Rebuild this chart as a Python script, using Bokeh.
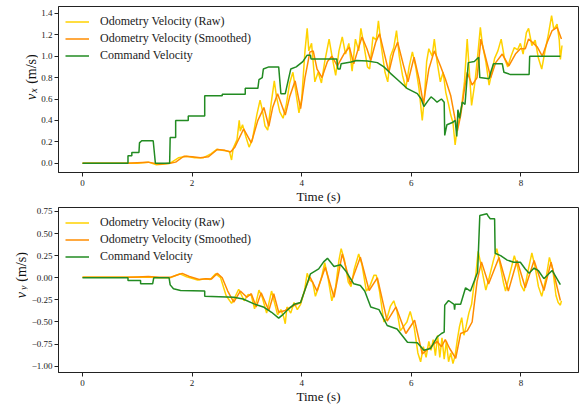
import math
from bokeh.plotting import figure
from bokeh.layouts import column, row
from bokeh.models import Range1d, FixedTicker, CustomJSTickFormatter, Legend, LegendItem
from bokeh.core.properties import value
from bokeh.embed import file_html
from bokeh.resources import INLINE

# ---------------- data: top (v_x) ----------------
vx_raw_t = [0.0, 0.8, 1.0, 1.2, 1.35, 1.45, 1.6, 1.75, 1.9, 2.05, 2.2, 2.35, 2.45, 2.55, 2.68, 2.72, 2.75,
            2.82, 2.86, 2.88, 2.92, 2.98, 3.04, 3.10, 3.18, 3.24, 3.28, 3.33, 3.38, 3.44, 3.50, 3.54, 3.60,
            3.66, 3.72, 3.78, 3.84, 3.90, 3.95, 4.0, 4.06, 4.10, 4.13, 4.18, 4.24, 4.30, 4.36, 4.42, 4.50,
            4.56, 4.62, 4.68, 4.74, 4.80, 4.86, 4.92, 4.98, 5.04, 5.08, 5.13, 5.20, 5.24, 5.30, 5.36, 5.40,
            5.45, 5.52, 5.57, 5.62, 5.68, 5.73, 5.78, 5.84, 5.90, 5.96, 6.02, 6.08, 6.14, 6.20, 6.24, 6.28,
            6.32, 6.38, 6.42, 6.47, 6.53, 6.58, 6.63, 6.68, 6.72, 6.76, 6.80, 6.83, 6.87, 6.92, 6.97, 7.02,
            7.06, 7.10, 7.16, 7.22, 7.26, 7.30, 7.36, 7.42, 7.47, 7.52, 7.58, 7.64, 7.70, 7.76, 7.82, 7.88,
            7.94, 7.99, 8.04, 8.10, 8.14, 8.20, 8.26, 8.32, 8.38, 8.44, 8.50, 8.56, 8.60, 8.66, 8.70, 8.72, 8.75]
vx_raw_v = [0.0, 0.0, 0.0, 0.01, -0.015, -0.01, 0.0, 0.05, 0.065, 0.05, 0.05, 0.09, 0.13, 0.12, 0.11, 0.03, 0.14,
            0.22, 0.40, 0.30, 0.36, 0.25, 0.15, 0.22, 0.45, 0.59, 0.50, 0.35, 0.31, 0.55, 0.77, 0.62, 0.48,
            0.42, 0.55, 0.75, 0.85, 0.64, 0.47, 0.60, 1.05, 1.26, 1.05, 1.12, 0.76, 0.85, 0.75, 0.95, 1.16,
            0.98, 0.82, 1.05, 1.18, 1.02, 1.12, 0.86, 1.16, 1.05, 1.26, 1.12, 0.90, 0.88, 1.18, 1.15, 1.33,
            1.10, 0.85, 0.76, 1.0, 1.08, 1.24, 1.00, 0.82, 0.70, 0.90, 1.04, 0.90, 0.70, 0.40, 0.62, 0.95,
            1.07, 1.00, 1.16, 0.95, 0.76, 0.85, 0.66, 0.55, 0.45, 0.38, 0.17, 0.30, 0.40, 0.54, 0.76, 1.16,
            0.85, 0.54, 0.75, 1.05, 1.27, 1.10, 0.95, 0.73, 0.85, 0.98, 1.05, 1.16, 0.98, 0.90, 1.0, 1.08,
            1.06, 1.12, 1.02, 1.22, 1.26, 1.10, 1.15, 0.98, 0.88, 1.05, 1.20, 1.38, 1.25, 1.30, 1.15, 0.97, 1.10]

vx_smooth_t = [0.0, 0.8, 1.0, 1.2, 1.4, 1.6, 1.7, 1.85, 2.0, 2.15, 2.3, 2.46, 2.6, 2.7, 2.78, 2.94, 3.08,
               3.2, 3.31, 3.4, 3.47, 3.56, 3.70, 3.78, 3.88, 3.98, 4.06, 4.15, 4.21, 4.28, 4.37, 4.47, 4.55,
               4.65, 4.77, 4.87, 4.95, 5.02, 5.10, 5.19, 5.26, 5.35, 5.42, 5.50, 5.59, 5.68, 5.75, 5.86, 5.94,
               6.05, 6.14, 6.22, 6.32, 6.42, 6.53, 6.62, 6.72, 6.84, 6.90, 6.96, 7.02, 7.11, 7.20, 7.27, 7.35,
               7.45, 7.54, 7.66, 7.78, 7.90, 7.99, 8.08, 8.14, 8.21, 8.30, 8.39, 8.48, 8.57, 8.66, 8.74]
vx_smooth_v = [0.0, 0.0, 0.005, 0.01, -0.01, 0.0, 0.01, 0.065, 0.06, 0.05, 0.06, 0.128, 0.12, 0.105, 0.15, 0.32, 0.19,
               0.40, 0.52, 0.345, 0.52, 0.65, 0.45, 0.62, 0.77, 0.51, 0.80, 1.04, 1.05, 0.88, 0.80, 0.95, 1.0,
               0.91, 1.02, 1.085, 0.93, 1.05, 1.18, 1.07, 0.96, 1.13, 1.21, 1.04, 0.85, 1.04, 1.13, 0.91, 0.76,
               0.99, 0.79, 0.555, 0.88, 1.05, 0.91, 0.79, 0.63, 0.30, 0.445, 0.66, 0.85, 0.73, 0.80, 1.16, 1.0,
               0.80, 0.94, 1.02, 0.91, 1.02, 1.07, 1.07, 1.16, 1.13, 1.085, 1.0, 1.13, 1.24, 1.27, 1.16]

vx_cmd_t = [0.0, 0.83, 0.83, 0.90, 0.90, 1.03, 1.04, 1.08, 1.29, 1.33, 1.59, 1.60, 1.70, 1.70, 1.93, 1.93,
            2.23, 2.23, 2.55, 2.55, 2.97, 2.97, 3.20, 3.22, 3.28, 3.30, 3.40, 3.58, 3.62, 3.70, 3.80, 3.90,
            4.02, 4.10, 4.16, 4.17, 4.64, 4.66, 4.70, 4.72, 4.90, 5.0, 5.2, 5.38, 5.5, 5.62, 5.75, 5.92,
            6.11, 6.18, 6.23, 6.30, 6.36, 6.41, 6.47, 6.55, 6.60, 6.61, 6.65, 6.75, 6.80, 6.83, 6.85, 6.88,
            6.93, 6.98, 7.04, 7.15, 7.23, 7.25, 7.42, 7.45, 7.50, 7.66, 7.69, 7.80, 8.15, 8.16, 8.72]
vx_cmd_v = [0.0, 0.0, 0.07, 0.07, 0.10, 0.10, 0.19, 0.21, 0.21, 0.0, 0.0, 0.24, 0.24, 0.40, 0.40, 0.44,
            0.44, 0.63, 0.63, 0.645, 0.645, 0.70, 0.70, 0.78, 0.80, 0.88, 0.90, 0.90, 0.65, 0.65, 0.88, 0.90,
            0.95, 1.01, 1.01, 0.975, 0.975, 0.88, 0.88, 0.93, 0.945, 0.96, 0.955, 0.94, 0.90, 0.84, 0.78, 0.70,
            0.65, 0.60, 0.53, 0.58, 0.62, 0.60, 0.57, 0.60, 0.57, 0.26, 0.36, 0.38, 0.40, 0.25, 0.50, 0.42,
            0.57, 0.55, 0.94, 0.95, 0.99, 0.80, 0.79, 0.85, 0.93, 0.93, 0.85, 0.83, 0.83, 1.0, 1.0]

# ---------------- data: bottom (v_y) ----------------
vy_raw_t = [0.0, 0.8, 1.2, 1.4, 1.6, 1.78, 1.9, 2.1, 2.25, 2.33, 2.43, 2.52, 2.62, 2.72, 2.78, 2.85, 2.95,
            3.02, 3.08, 3.14, 3.22, 3.28, 3.36, 3.45, 3.52, 3.56, 3.62, 3.67, 3.70, 3.73, 3.8, 3.86, 3.92,
            3.98, 4.05, 4.10, 4.14, 4.20, 4.25, 4.30, 4.36, 4.42, 4.48, 4.55, 4.62, 4.68, 4.72, 4.78, 4.85,
            4.90, 4.96, 5.04, 5.10, 5.18, 5.24, 5.32, 5.36, 5.42, 5.50, 5.56, 5.62, 5.68, 5.74, 5.80, 5.86,
            5.92, 5.98, 6.05, 6.12, 6.17, 6.22, 6.27, 6.32, 6.36, 6.40, 6.44, 6.48, 6.52, 6.56, 6.60, 6.64,
            6.68, 6.72, 6.76, 6.80, 6.84, 6.88, 6.92, 6.96, 7.00, 7.05, 7.10, 7.14, 7.18, 7.22, 7.26, 7.30,
            7.36, 7.42, 7.50, 7.56, 7.62, 7.68, 7.72, 7.80, 7.88, 7.94, 8.0, 8.06, 8.12, 8.20, 8.26, 8.32,
            8.38, 8.46, 8.52, 8.58, 8.64, 8.68, 8.72, 8.74]
vy_raw_v = [0.005, 0.005, 0.01, 0.0, 0.0, 0.045, 0.01, -0.025, -0.01, -0.02, 0.045, 0.0, -0.2, -0.29, -0.22, -0.13, -0.26,
            -0.19, -0.20, -0.35, -0.14, -0.22, -0.40, -0.15, -0.32, -0.42, -0.36, -0.44, -0.52, -0.33, -0.40, -0.28, -0.36,
            -0.30, -0.15, 0.05, -0.02, -0.05, -0.21, -0.12, 0.0, 0.17, 0.0, -0.26, -0.10, 0.20, 0.33, 0.20, -0.05,
            -0.10, 0.10, 0.27, 0.15, -0.15, -0.10, 0.03, 0.03, -0.15, -0.50, -0.45, -0.32, -0.26, -0.38, -0.60, -0.55,
            -0.50, -0.38, -0.55, -0.85, -0.95, -0.78, -0.90, -0.72, -0.82, -0.70, -0.88, -0.65, -0.90, -0.68, -0.92, -0.72,
            -0.95, -0.85, -0.97, -0.88, -0.70, -0.55, -0.45, -0.65, -0.55, -0.40, -0.30, -0.10, 0.05, 0.30, 0.18, 0.05,
            -0.14, 0.0, 0.20, 0.33, 0.15, -0.05, -0.15, 0.05, 0.25, 0.12, -0.08, -0.15, 0.05, 0.28, 0.12, -0.10,
            -0.21, 0.0, 0.23, 0.10, -0.20, -0.28, -0.31, -0.26]

vy_smooth_t = [0.0, 0.8, 1.0, 1.2, 1.4, 1.6, 1.7, 1.82, 1.95, 2.13, 2.25, 2.35, 2.46, 2.55, 2.65, 2.76, 2.88,
               3.0, 3.08, 3.17, 3.26, 3.40, 3.49, 3.58, 3.70, 3.80, 3.98, 4.08, 4.15, 4.28, 4.43, 4.59, 4.74,
               4.89, 5.07, 5.23, 5.38, 5.56, 5.72, 5.90, 6.06, 6.20, 6.32, 6.47, 6.55, 6.62, 6.70, 6.81, 6.90,
               7.02, 7.11, 7.20, 7.28, 7.41, 7.60, 7.77, 7.93, 8.08, 8.24, 8.42, 8.55, 8.72]
vy_smooth_v = [0.005, 0.005, 0.01, 0.015, 0.005, 0.005, 0.026, 0.05, 0.015, -0.02, -0.01, -0.015, 0.05, 0.0, -0.15, -0.275, -0.15,
               -0.22, -0.18, -0.33, -0.17, -0.37, -0.18, -0.39, -0.37, -0.33, -0.28, -0.10, 0.01, -0.15, 0.12, -0.22, 0.27,
               -0.07, 0.233, -0.144, 0.0, -0.49, -0.33, -0.63, -0.48, -0.86, -0.80, -0.72, -0.78, -0.70, -0.80, -0.91, -0.63,
               -0.60, -0.50, -0.04, 0.18, -0.07, 0.23, -0.15, 0.196, -0.113, 0.196, -0.144, 0.176, -0.257]

vy_cmd_t = [0.0, 0.83, 0.83, 1.06, 1.06, 1.28, 1.30, 1.58, 1.60, 1.66, 1.79, 2.23, 2.23, 2.76, 2.93, 3.13,
            3.30, 3.45, 3.58, 3.65, 3.73, 3.86, 3.98, 4.08, 4.16, 4.31, 4.40, 4.47, 4.59, 4.71, 4.80, 4.95,
            5.07, 5.15, 5.26, 5.41, 5.56, 5.74, 5.93, 6.11, 6.23, 6.35, 6.47, 6.55, 6.60, 6.61, 6.68, 6.78,
            6.79, 6.80, 6.90, 6.99, 7.08, 7.14, 7.21, 7.25, 7.38, 7.40, 7.44, 7.52, 7.53, 7.63, 7.75, 7.87,
            7.99, 8.08, 8.15, 8.24, 8.32, 8.42, 8.50, 8.57, 8.72]
vy_cmd_v = [0.0, 0.0, -0.03, -0.03, -0.068, -0.068, 0.0, 0.0, -0.08, -0.125, -0.144, -0.15, -0.21, -0.22, -0.24, -0.295,
            -0.33, -0.39, -0.457, -0.42, -0.37, -0.30, -0.28, -0.10, 0.045, 0.10, 0.18, 0.22, 0.128, 0.147, 0.08, -0.068,
            -0.087, -0.15, -0.33, -0.36, -0.54, -0.58, -0.73, -0.735, -0.82, -0.80, -0.67, -0.63, -0.615, -0.31, -0.257, -0.30,
            -0.36, -0.30, -0.30, -0.113, -0.15, -0.05, 0.063, 0.705, 0.724, 0.70, 0.667, 0.667, 0.278, 0.25, 0.20, 0.176,
            0.176, 0.10, 0.052, 0.11, 0.08, -0.01, 0.04, 0.083, -0.076]

x_ticks = [0, 2, 4, 6, 8]
vx_ticks = [0.0, 0.2, 0.4, 0.6, 0.8, 1.0, 1.2, 1.4]
vy_ticks = [0.75, 0.5, 0.25, 0.0, -0.25, -0.5, -0.75, -1.0]

series_names = ["Odometry Velocity (Raw)", "Odometry Velocity (Smoothed)", "Command Velocity"]
colors = ["#FFD200", "#FF8C00", "#228B22"]

SERIF = "Liberation Serif"
X_RANGE = (-0.438, 9.051)
TOTAL_W = 579


def make_label_fig(width, height, base_x, v_y, sub_y, unit_y, sub):
    """Narrow text-only figure that holds the rotated y-axis title."""
    lf = figure(width=width, height=height, output_backend="svg", toolbar_location=None,
                x_range=Range1d(0, width), y_range=Range1d(0, height),
                x_axis_type=None, y_axis_type=None,
                min_border_left=0, min_border_right=0, min_border_top=0, min_border_bottom=0)
    lf.grid.visible = False
    lf.outline_line_color = None
    lf.background_fill_color = "white"
    lf.border_fill_color = "white"
    common = dict(angle=math.pi / 2, text_font=value(SERIF), text_align="left",
                  text_baseline="alphabetic", text_color="#111111")
    lf.text(x=[base_x], y=[v_y], text=["v"], text_font_size="14px", text_font_style="italic", **common)
    lf.text(x=[base_x + 2.5], y=[sub_y], text=[sub], text_font_size="10px", text_font_style="italic", **common)
    lf.text(x=[base_x], y=[unit_y], text=["(m/s)"], text_font_size="14px", **common)
    return lf


def make_panel(width, height, left_border, top_border, yr, yticks, ydigits, raw, smooth, cmd):
    p = figure(width=width, height=height, output_backend="svg", toolbar_location=None,
               x_range=Range1d(*X_RANGE), y_range=Range1d(*yr),
               min_border_left=left_border, min_border_right=1, min_border_top=top_border, min_border_bottom=34)
    p.grid.visible = False
    p.outline_line_color = "#222222"
    p.outline_line_width = 1
    p.outline_line_alpha = 1
    p.background_fill_color = "white"
    p.border_fill_color = "white"

    rs = []
    for (t, v), c in zip([raw, smooth, cmd], colors):
        rs.append(p.line(t, v, line_color=c, line_width=1.5))

    legend = Legend(items=[LegendItem(label=n, renderers=[r]) for n, r in zip(series_names, rs)],
                    location="top_left", margin=5, padding=2, spacing=0,
                    glyph_width=24, glyph_height=17, label_height=17, label_standoff=11,
                    border_line_alpha=0, background_fill_alpha=0.8,
                    label_text_font=SERIF, label_text_font_size="12px", label_text_color="#222222")
    p.add_layout(legend)

    xa = p.xaxis[0]
    xa.ticker = FixedTicker(ticks=x_ticks)
    xa.formatter = CustomJSTickFormatter(code="return tick.toFixed(0).replace('-', '\u2212');")
    xa.axis_label = "Time (s)"
    ya = p.yaxis[0]
    ya.ticker = FixedTicker(ticks=yticks)
    ya.formatter = CustomJSTickFormatter(code="return tick.toFixed(%d).replace('-', '\u2212');" % ydigits)
    for ax in (xa, ya):
        ax.minor_tick_line_color = None
        ax.major_tick_in = 0
        ax.major_tick_out = 4
        ax.major_tick_line_color = "#222222"
        ax.axis_line_color = "#222222"
        ax.major_label_text_font = SERIF
        ax.major_label_text_font_size = "9px"
        ax.major_label_text_color = "#222222"
        ax.major_label_standoff = 3
        ax.axis_label_text_font = SERIF
        ax.axis_label_text_font_size = "13px"
        ax.axis_label_text_font_style = "normal"
        ax.axis_label_text_color = "#111111"
    ya.major_label_standoff = 2
    xa.axis_label_standoff = 0
    return p


# top panel: page y 0..206, frame left at x=58
top_lw = 38
lab1 = make_label_fig(top_lw, 206, 30.5, 206 - 116, 206 - 107, 206 - 96, "x")
p1 = make_panel(TOTAL_W - top_lw, 206, 58 - top_lw, 6, (-0.0869, 1.4645), vx_ticks, 1,
                (vx_raw_t, vx_raw_v), (vx_smooth_t, vx_smooth_v), (vx_cmd_t, vx_cmd_v))

# bottom panel: page y 206..406
bot_lw = 28
lab2 = make_label_fig(bot_lw, 200, 20.5, 406 - 316, 406 - 306, 406 - 296, "y")
p2 = make_panel(TOTAL_W - bot_lw, 200, 58 - bot_lw, 1, (-1.0713, 0.795), vy_ticks, 2,
                (vy_raw_t, vy_raw_v), (vy_smooth_t, vy_smooth_v), (vy_cmd_t, vy_cmd_v))

layout = column(row(lab1, p1, spacing=0), row(lab2, p2, spacing=0), spacing=0)
open("out.html", "w").write(file_html(layout, INLINE))
